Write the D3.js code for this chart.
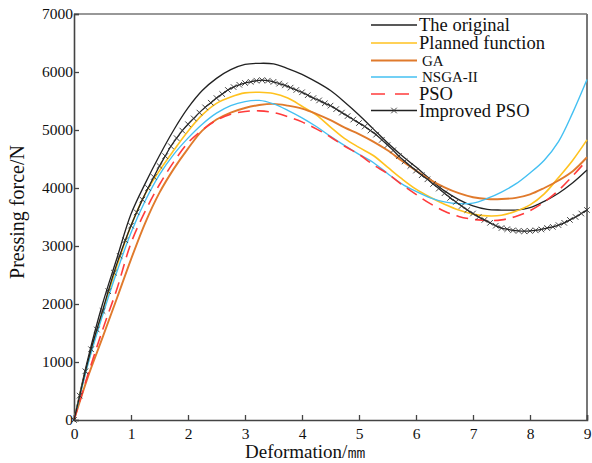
<!DOCTYPE html>
<html><head><meta charset="utf-8">
<script src="https://cdn.jsdelivr.net/npm/d3@7"></script>
<style>body{margin:0;background:#fff}svg{display:block}text{font-family:"Liberation Serif","Times New Roman",serif;fill:#111}</style>
</head><body>
<script>
const xs = [0,0.25,0.5,0.75,1,1.25,1.5,1.75,2,2.25,2.5,2.75,3,3.25,3.5,3.75,4,4.25,4.5,4.75,5,5.25,5.5,5.75,6,6.25,6.5,6.75,7,7.25,7.5,7.75,8,8.25,8.5,8.75,9];
const original = [0,1080,2000,2780,3550,4080,4560,5000,5380,5680,5890,6040,6130,6150,6140,6060,5960,5830,5680,5480,5260,5020,4780,4560,4360,4150,3950,3800,3690,3630,3620,3620,3660,3770,3910,4090,4310];
const planned = [0,1000,1850,2650,3350,3900,4300,4650,4980,5260,5460,5570,5640,5650,5630,5550,5410,5260,5050,4850,4700,4560,4360,4160,3980,3840,3720,3620,3550,3520,3530,3600,3710,3900,4180,4480,4830];
const ga = [0,760,1420,2090,2770,3400,3920,4330,4680,4990,5180,5300,5380,5430,5450,5420,5370,5280,5170,5040,4930,4800,4650,4470,4300,4140,4010,3910,3840,3810,3810,3830,3890,4000,4130,4290,4530];
const nsga = [0,980,1800,2550,3230,3780,4230,4580,4860,5100,5290,5420,5490,5510,5450,5340,5210,5060,4890,4730,4580,4440,4250,4070,3940,3830,3760,3730,3740,3820,3930,4070,4260,4480,4800,5300,5870];
const pso = [0,800,1550,2250,3050,3600,4060,4450,4780,5000,5170,5270,5320,5330,5300,5230,5140,5020,4880,4720,4580,4400,4250,4060,3890,3730,3600,3510,3460,3440,3450,3510,3610,3760,3960,4210,4480];
const xsImproved = d3.range(0, 91).map(i => i / 10);
const improved = [0,420,840,1220,1560,1880,2220,2540,2830,3100,3350,3580,3800,4000,4190,4380,4550,4720,4860,4990,5100,5200,5300,5390,5470,5550,5620,5690,5740,5780,5810,5830,5850,5860,5850,5830,5800,5770,5730,5690,5650,5600,5550,5510,5460,5420,5360,5300,5240,5180,5120,5060,4990,4920,4830,4740,4650,4550,4460,4380,4300,4220,4150,4070,3990,3910,3830,3760,3690,3620,3560,3500,3450,3400,3350,3310,3290,3270,3260,3255,3260,3270,3285,3310,3330,3360,3400,3450,3500,3560,3620];
const xTicks = [0,1,2,3,4,5,6,7,8,9];
const yTicks = [0,1000,2000,3000,4000,5000,6000,7000];
const legendNames = ["The original","Planned function","GA","NSGA-II","PSO","Improved PSO"];

const W = 592, H = 463;
const svg = d3.select("body").append("svg").attr("width", W).attr("height", H);
const x = d3.scaleLinear().domain([0, 9]).range([74, 587]);
const y = d3.scaleLinear().domain([0, 7000]).range([420, 14]);

// frame
svg.append("line").attr("x1", x(0)).attr("x2", x(9)).attr("y1", y(7000)).attr("y2", y(7000)).attr("stroke", "#333").attr("stroke-width", 1.2);
svg.append("line").attr("x1", x(9)).attr("x2", x(9)).attr("y1", y(7000)).attr("y2", y(0)).attr("stroke", "#777").attr("stroke-width", 2);

const xAxis = svg.append("g").attr("transform", `translate(0,${y(0)})`)
  .call(d3.axisBottom(x).tickValues(xTicks).tickSize(-5).tickPadding(8).tickFormat(d3.format("d")));
const yAxis = svg.append("g").attr("transform", `translate(${x(0)},0)`)
  .call(d3.axisLeft(y).tickValues(yTicks).tickSize(-5).tickPadding(1).tickFormat(d3.format("d")));
[xAxis, yAxis].forEach(g => {
  g.select(".domain").attr("stroke", "#444").attr("stroke-width", 1.6);
  g.selectAll(".tick line").attr("stroke", "#444").attr("stroke-width", 1.3);
  g.selectAll("text").attr("font-size", 15.5).attr("font-family", "Liberation Serif").attr("fill", "#111");
});

const series = [
  {name: legendNames[0], xv: xs, yv: original, color: "#222", w: 1.3},
  {name: legendNames[1], xv: xs, yv: planned, color: "#FFC21F", w: 1.6},
  {name: legendNames[2], xv: xs, yv: ga, color: "#E07A2C", w: 1.9},
  {name: legendNames[3], xv: xs, yv: nsga, color: "#44C0F2", w: 1.4},
  {name: legendNames[4], xv: xs, yv: pso, color: "#FF3B3B", w: 1.6, dash: "12,7"},
  {name: legendNames[5], xv: xsImproved, yv: improved, color: "#222", w: 1.3, marker: true}
];

const line = d3.line().x(d => x(d[0])).y(d => y(d[1])).curve(d3.curveCatmullRom.alpha(0.5));
const cross = d3.symbol().type(d3.symbolX).size(22);

series.forEach(s => {
  const pts = s.xv.map((v, i) => [v, s.yv[i]]);
  svg.append("path").datum(pts).attr("d", line).attr("fill", "none")
    .attr("stroke", s.color).attr("stroke-width", s.w).attr("stroke-dasharray", s.dash || null);
  if (s.marker) {
    svg.append("g").selectAll("path").data(pts).join("path")
      .attr("d", cross).attr("transform", d => `translate(${x(d[0])},${y(d[1])})`)
      .attr("fill", "none").attr("stroke", "#333").attr("stroke-width", 0.9);
  }
});

// legend
const legY = [25, 43, 60.5, 77, 94, 110.5];
const legSize = [18.5, 18.5, 15, 15, 18.5, 18.5];
const lg = svg.append("g");
series.forEach((s, i) => {
  const yy = legY[i];
  lg.append("line").attr("x1", 371).attr("x2", 417).attr("y1", yy).attr("y2", yy)
    .attr("stroke", s.color).attr("stroke-width", s.w).attr("stroke-dasharray", s.dash ? "14,10" : null);
  if (s.marker) lg.append("path").attr("d", cross).attr("transform", `translate(394,${yy})`).attr("fill", "none").attr("stroke", "#333").attr("stroke-width", 0.9);
  lg.append("text").attr("x", i === 2 || i === 3 ? 422 : 419).attr("y", yy).attr("dy", "0.34em")
    .attr("font-size", legSize[i]).text(s.name);
});

svg.append("text").attr("x", 245).attr("y", 457.5).attr("font-size", 19).text("Deformation/㎜");
svg.append("text").attr("transform", "translate(24,212) rotate(-90)").attr("text-anchor", "middle")
  .attr("font-size", 20).text("Pressing force/N");
</script>
</body></html>
